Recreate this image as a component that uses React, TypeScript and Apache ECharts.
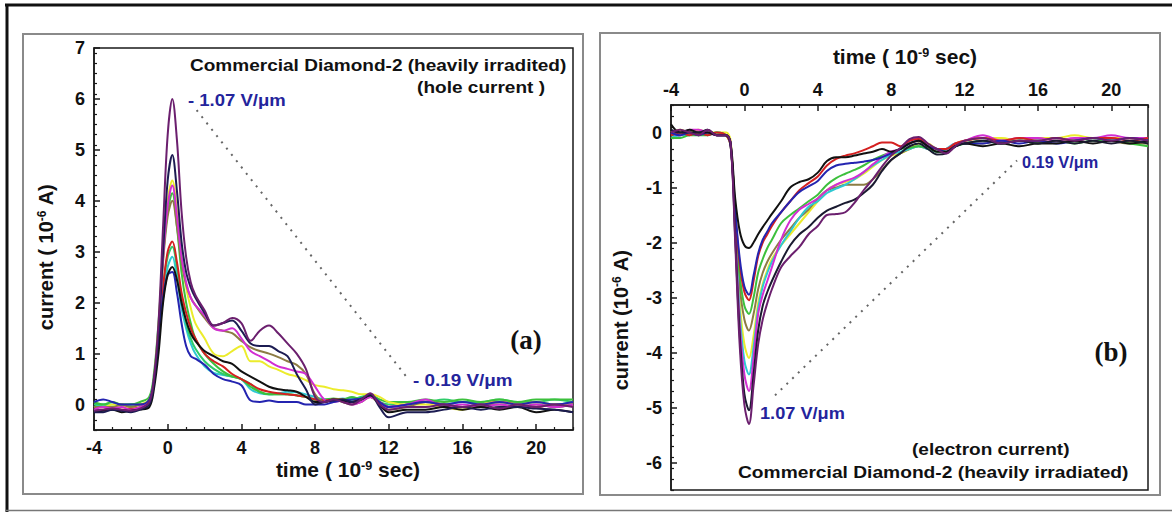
import React, { useEffect, useRef } from "react";
import * as echarts from "echarts";

// shared time axis (10^-9 s)
const TIME = [
  -4, -3.5, -3, -2.5, -2, -1.5, -1, -0.75, -0.5, -0.25, 0, 0.25, 0.5, 0.75, 1, 1.25, 1.5,
  2, 2.5, 3, 3.5, 4, 4.5, 5, 5.5, 6, 6.5, 7, 7.5, 8, 8.5, 9, 9.5, 10, 10.5, 11, 11.5, 12,
  13, 14, 15, 16, 17, 18, 19, 20, 21, 22,
];

// ---- panel (a): hole current (10^-6 A)
const HOLE_PURPLE = [-0.12, -0.1, -0.08, -0.1, -0.12, -0.08, 0.05, 0.5, 1.6, 3.5, 5.3, 6.0, 5.2, 3.8, 2.9, 2.4, 2.15,
  1.85, 1.55, 1.6, 1.7, 1.6, 1.25, 1.45, 1.55, 1.4, 1.2, 1.0, 0.7, 0.15, 0.05, 0.1, 0.05, 0.0, 0.1, 0.22, 0.0, -0.1,
  -0.05, -0.05, 0.0, -0.05, 0.0, -0.08, 0.0, -0.05, 0.0, -0.05];
const HOLE_NAVY = [-0.15, -0.15, -0.1, -0.12, -0.15, -0.1, 0.0, 0.4, 1.4, 3.0, 4.4, 4.9, 4.2, 3.2, 2.6, 2.3, 2.1,
  1.8, 1.55, 1.6, 1.65, 1.45, 1.2, 1.15, 1.15, 1.05, 0.95, 0.6, 0.3, 0.0, 0.05, 0.08, 0.1, 0.05, 0.1, 0.2, -0.05, -0.25,
  -0.15, -0.15, -0.1, -0.05, -0.1, -0.05, -0.05, -0.08, -0.1, -0.15];
const HOLE_YELLOW = [-0.05, -0.05, 0.0, -0.05, -0.05, 0.0, 0.1, 0.5, 1.5, 3.0, 4.0, 4.4, 3.8, 2.9, 2.3, 1.9, 1.6,
  1.3, 1.0, 0.95, 1.05, 1.15, 0.85, 0.85, 0.75, 0.68, 0.6, 0.55, 0.48, 0.38, 0.35, 0.3, 0.28, 0.25, 0.2, 0.2, 0.15, 0.05,
  0.0, 0.0, -0.05, -0.1, 0.0, 0.05, 0.0, 0.05, 0.0, 0.0];
const HOLE_MAGENTA = [-0.1, -0.05, -0.08, -0.05, -0.1, -0.05, 0.05, 0.45, 1.4, 2.9, 3.9, 4.3, 3.7, 2.9, 2.4, 2.1, 1.95,
  1.75, 1.5, 1.45, 1.5, 1.3, 1.05, 0.95, 0.85, 0.75, 0.7, 0.65, 0.6, 0.35, 0.1, 0.05, 0.08, 0.0, 0.05, 0.15, 0.05, -0.05,
  0.0, 0.1, -0.05, 0.0, -0.05, 0.0, -0.05, 0.0, -0.05, 0.0];
const HOLE_GREEN = [0.05, 0.0, 0.05, 0.0, 0.0, 0.05, 0.15, 0.6, 1.6, 2.9, 3.8, 4.15, 3.5, 2.6, 2.0, 1.6, 1.3,
  1.0, 0.8, 0.65, 0.55, 0.5, 0.35, 0.25, 0.2, 0.2, 0.2, 0.18, 0.15, 0.1, 0.1, 0.12, 0.1, 0.15, 0.1, 0.2, 0.1, 0.05,
  0.05, 0.1, 0.05, 0.1, 0.05, 0.1, 0.05, 0.1, 0.1, 0.1];
const HOLE_OLIVE = [-0.05, -0.05, -0.05, 0.0, -0.05, 0.0, 0.05, 0.45, 1.4, 2.8, 3.7, 4.0, 3.5, 2.8, 2.35, 2.1, 1.95,
  1.7, 1.5, 1.45, 1.4, 1.25, 1.12, 1.05, 1.0, 0.93, 0.85, 0.78, 0.6, 0.2, 0.05, 0.1, 0.05, 0.0, 0.05, 0.15, 0.0, -0.1,
  -0.05, 0.05, 0.0, -0.05, 0.0, 0.0, -0.05, 0.0, -0.05, 0.0];
const HOLE_RED = [-0.1, -0.1, -0.05, -0.1, -0.08, -0.05, 0.05, 0.4, 1.2, 2.3, 3.0, 3.2, 2.8, 2.2, 1.8, 1.5, 1.3,
  1.0, 0.85, 0.75, 0.6, 0.5, 0.4, 0.3, 0.25, 0.22, 0.2, 0.18, 0.15, 0.1, 0.08, 0.1, 0.1, 0.05, 0.1, 0.15, 0.05, -0.05,
  0.0, 0.05, 0.0, -0.05, 0.0, 0.05, 0.0, -0.05, 0.0, 0.0];
const HOLE_GREEN2 = [0.0, 0.0, -0.05, 0.0, 0.0, 0.0, 0.1, 0.5, 1.3, 2.3, 2.9, 3.1, 2.7, 2.1, 1.6, 1.3, 1.1,
  0.85, 0.7, 0.6, 0.55, 0.5, 0.4, 0.25, 0.2, 0.2, 0.2, 0.18, 0.15, 0.1, 0.05, 0.1, 0.1, 0.1, 0.15, 0.2, 0.05, 0.0,
  0.05, 0.05, 0.1, 0.05, 0.05, 0.1, 0.05, 0.05, 0.1, 0.05];
const HOLE_CYAN = [-0.05, 0.0, 0.0, -0.05, 0.0, 0.0, 0.08, 0.45, 1.2, 2.1, 2.7, 2.9, 2.5, 1.9, 1.5, 1.2, 1.0,
  0.75, 0.62, 0.58, 0.55, 0.5, 0.3, 0.22, 0.2, 0.22, 0.25, 0.24, 0.2, 0.15, 0.1, 0.1, 0.12, 0.1, 0.15, 0.2, 0.05, -0.05,
  0.0, 0.05, 0.0, 0.05, 0.0, 0.05, 0.0, 0.05, 0.0, 0.05];
const HOLE_BLACK = [-0.15, -0.12, -0.1, -0.15, -0.12, -0.1, -0.05, 0.3, 1.0, 2.0, 2.55, 2.7, 2.45, 2.0, 1.65, 1.4, 1.25,
  1.05, 0.95, 0.85, 0.8, 0.65, 0.55, 0.45, 0.35, 0.3, 0.28, 0.25, 0.15, 0.05, 0.05, 0.1, 0.08, 0.05, 0.1, 0.18, 0.0, -0.15,
  -0.1, -0.1, -0.05, -0.1, -0.05, -0.1, -0.05, -0.15, -0.1, -0.15];
const HOLE_BLUE = [0.05, 0.1, 0.05, 0.0, 0.0, 0.0, 0.1, 0.5, 1.3, 2.1, 2.55, 2.6, 2.2, 1.6, 1.15, 0.95, 0.9,
  0.78, 0.6, 0.5, 0.45, 0.38, 0.08, 0.05, 0.08, 0.05, 0.05, 0.05, 0.0, 0.0, 0.0, 0.05, 0.08, 0.1, 0.12, 0.18, 0.05, -0.05,
  0.0, 0.05, 0.0, 0.05, 0.0, 0.05, 0.0, 0.05, 0.0, 0.05];

// ---- panel (b): electron current (10^-6 A)
const EL_BLACK = [0.15, 0.0, 0.05, 0.0, 0.0, -0.05, -0.05, -0.2, -1.2, -1.8, -2.05, -2.1, -2.0, -1.85, -1.72, -1.6, -1.48,
  -1.25, -1.0, -0.9, -0.85, -0.73, -0.52, -0.45, -0.45, -0.42, -0.38, -0.35, -0.3, -0.35, -0.3, -0.2, -0.15, -0.25, -0.35, -0.35, -0.25, -0.2,
  -0.25, -0.2, -0.25, -0.2, -0.2, -0.15, -0.2, -0.15, -0.2, -0.15];
const EL_NAVY = [0.0, -0.05, 0.0, -0.05, 0.0, -0.05, -0.05, -0.25, -1.4, -2.3, -2.8, -2.95, -2.6, -2.2, -1.95, -1.8, -1.65,
  -1.45, -1.25, -1.08, -0.98, -0.88, -0.7, -0.6, -0.57, -0.55, -0.53, -0.5, -0.45, -0.38, -0.3, -0.2, -0.15, -0.25, -0.3, -0.35, -0.25, -0.2,
  -0.2, -0.15, -0.2, -0.15, -0.2, -0.15, -0.1, -0.15, -0.1, -0.15];
const EL_RED = [-0.05, 0.0, -0.05, 0.0, -0.05, 0.0, -0.05, -0.25, -1.45, -2.4, -2.9, -3.05, -2.7, -2.25, -2.0, -1.85, -1.7,
  -1.45, -1.25, -1.05, -0.92, -0.8, -0.6, -0.48, -0.42, -0.38, -0.32, -0.25, -0.18, -0.18, -0.25, -0.15, -0.12, -0.25, -0.3, -0.3, -0.2, -0.15,
  -0.1, -0.15, -0.1, -0.15, -0.1, -0.15, -0.1, -0.1, -0.15, -0.1];
const EL_GREEN = [-0.1, -0.1, -0.05, -0.05, -0.05, 0.0, -0.05, -0.25, -1.5, -2.6, -3.15, -3.3, -3.0, -2.55, -2.3, -2.1, -1.95,
  -1.65, -1.5, -1.38, -1.25, -1.13, -0.95, -0.83, -0.75, -0.68, -0.6, -0.5, -0.42, -0.36, -0.3, -0.28, -0.25, -0.28, -0.35, -0.3, -0.25, -0.2,
  -0.15, -0.2, -0.15, -0.2, -0.15, -0.2, -0.15, -0.15, -0.2, -0.25];
const EL_OLIVE = [-0.05, -0.05, 0.0, -0.05, 0.0, -0.05, -0.05, -0.2, -1.55, -2.8, -3.4, -3.6, -3.3, -2.85, -2.55, -2.35, -2.2,
  -1.95, -1.75, -1.55, -1.4, -1.2, -1.05, -1.0, -0.95, -0.95, -0.95, -0.85, -0.68, -0.5, -0.38, -0.3, -0.25, -0.3, -0.35, -0.35, -0.25, -0.2,
  -0.2, -0.15, -0.15, -0.2, -0.15, -0.15, -0.1, -0.15, -0.2, -0.2];
const EL_YELLOW = [0.0, 0.05, 0.0, 0.05, 0.0, 0.0, 0.0, -0.15, -1.6, -3.1, -3.85, -4.1, -3.7, -3.1, -2.75, -2.5, -2.3,
  -2.05, -1.85, -1.65, -1.45, -1.25, -1.05, -0.95, -0.9, -0.85, -0.75, -0.62, -0.5, -0.42, -0.38, -0.3, -0.2, -0.2, -0.3, -0.3, -0.2, -0.15,
  -0.1, -0.1, -0.15, -0.1, -0.1, -0.05, -0.1, -0.1, -0.1, -0.1];
const EL_CYAN = [-0.1, -0.05, -0.05, 0.0, -0.05, 0.0, -0.05, -0.2, -1.7, -3.3, -4.15, -4.4, -3.9, -3.2, -2.8, -2.55, -2.35,
  -2.05, -1.8, -1.55, -1.35, -1.25, -1.1, -1.02, -0.95, -0.85, -0.72, -0.6, -0.5, -0.4, -0.35, -0.3, -0.25, -0.3, -0.35, -0.3, -0.2, -0.2,
  -0.15, -0.2, -0.15, -0.15, -0.1, -0.15, -0.1, -0.15, -0.1, -0.15];
const EL_MAGENTA = [0.0, -0.05, 0.05, 0.05, 0.0, -0.05, -0.05, -0.2, -1.8, -3.5, -4.4, -4.7, -4.1, -3.3, -2.95, -2.7, -2.45,
  -1.95, -1.6, -1.4, -1.3, -1.2, -1.05, -0.95, -0.88, -0.82, -0.72, -0.58, -0.45, -0.35, -0.3, -0.15, -0.1, -0.25, -0.3, -0.3, -0.2, -0.15,
  -0.05, -0.15, -0.1, -0.1, -0.15, -0.1, -0.1, -0.05, -0.1, -0.1];
const EL_BLACK2 = [0.05, 0.0, 0.0, 0.0, 0.05, -0.05, -0.05, -0.2, -1.9, -3.7, -4.75, -5.05, -4.4, -3.6, -3.15, -2.9, -2.7,
  -2.35, -2.05, -1.85, -1.72, -1.55, -1.42, -1.35, -1.28, -1.22, -1.1, -0.95, -0.7, -0.5, -0.38, -0.25, -0.2, -0.3, -0.4, -0.38, -0.25, -0.2,
  -0.15, -0.2, -0.15, -0.2, -0.15, -0.2, -0.15, -0.2, -0.15, -0.2];
const EL_PURPLE = [0.0, 0.05, 0.0, -0.05, 0.05, -0.05, -0.05, -0.2, -2.0, -3.9, -4.95, -5.3, -4.6, -3.85, -3.4, -3.1, -2.85,
  -2.45, -2.25, -2.08, -1.85, -1.7, -1.5, -1.48, -1.45, -1.28, -1.05, -0.85, -0.62, -0.42, -0.28, -0.12, -0.08, -0.2, -0.3, -0.38, -0.25, -0.15,
  -0.1, -0.2, -0.15, -0.15, -0.1, -0.15, -0.1, -0.15, -0.1, -0.15];

// pointer lines (data coordinates)
const HOLE_POINTER = [[1.57, 5.78], [12.97, 0.54]];
const EL_POINTER = [[1.67, -4.78], [14.86, -0.51]];

// axis ticks / labels
const X_TICKS = [-4, 0, 4, 8, 12, 16, 20];
const HOLE_Y_TICKS = [0, 1, 2, 3, 4, 5, 6, 7];
const EL_Y_TICKS = [-6, -5, -4, -3, -2, -1, 0];

// styles
const COLORS = {
  purple: "#6b1f6e", navy: "#1c1c52", yellow: "#ecec2c", magenta: "#d22ed2", green: "#3cc03c",
  olive: "#8c7c44", red: "#d42020", green2: "#2ecc6a", cyan: "#2ec8d2", black: "#111111",
  blue: "#2424b0", black2: "#1a1a30",
};
const HOLE_SERIES: [number[], string][] = [
  [HOLE_CYAN, COLORS.cyan], [HOLE_GREEN2, COLORS.green2], [HOLE_GREEN, COLORS.green], [HOLE_RED, COLORS.red],
  [HOLE_YELLOW, COLORS.yellow], [HOLE_OLIVE, COLORS.olive], [HOLE_MAGENTA, COLORS.magenta], [HOLE_BLUE, COLORS.blue],
  [HOLE_BLACK, COLORS.black], [HOLE_NAVY, COLORS.navy], [HOLE_PURPLE, COLORS.purple],
];
const EL_SERIES: [number[], string][] = [
  [EL_YELLOW, COLORS.yellow], [EL_OLIVE, COLORS.olive], [EL_CYAN, COLORS.cyan], [EL_GREEN, COLORS.green],
  [EL_MAGENTA, COLORS.magenta], [EL_RED, COLORS.red], [EL_NAVY, COLORS.blue], [EL_BLACK, COLORS.black],
  [EL_BLACK2, COLORS.black2], [EL_PURPLE, COLORS.purple],
];

const SANS = "'Liberation Sans', Arial, sans-serif";
const SERIF = "'Liberation Serif', 'Times New Roman', serif";
const AX = "#1a1a1a";
const NOTE_BLUE = "#24249c";

function minorTicks(min: number, max: number, step: number, skip: number) {
  const out: number[] = [];
  const n = Math.round((max - min) / step);
  for (let i = 0; i <= n; i++) {
    const v = Math.round((min + i * step) * 100) / 100;
    if (Math.abs(v / skip - Math.round(v / skip)) > 1e-6) out.push(v);
  }
  return out;
}

function xAxis(grid: number, position: "top" | "bottom", ticks: number[], minor: boolean) {
  return {
    type: "value", gridIndex: grid, min: -4, max: 22, position,
    axisLine: { show: !minor, onZero: false, lineStyle: { color: AX, width: 1.5 } },
    axisTick: minor
      ? { show: true, inside: true, length: 3, customValues: minorTicks(-4, 22, 1, 4), lineStyle: { color: AX, width: 1.2 } }
      : { show: true, inside: true, length: 6, customValues: ticks, lineStyle: { color: AX, width: 1.5 } },
    axisLabel: minor
      ? { show: false }
      : { show: true, customValues: ticks, margin: position === "top" ? 6 : 9, fontSize: 18, fontWeight: "bold", color: "#111", fontFamily: SANS },
    splitLine: { show: false },
  };
}

function yAxis(grid: number, min: number, max: number, ticks: number[], minor: boolean) {
  return {
    type: "value", gridIndex: grid, min, max, position: "left",
    axisLine: { show: !minor, onZero: false, lineStyle: { color: AX, width: 1.5 } },
    axisTick: minor
      ? { show: true, inside: true, length: 3, customValues: minorTicks(min, max, 0.2, 1), lineStyle: { color: AX, width: 1.2 } }
      : { show: true, inside: true, length: 6, customValues: ticks, lineStyle: { color: AX, width: 1.5 } },
    axisLabel: minor
      ? { show: false }
      : { show: true, customValues: ticks, margin: 9, fontSize: 18, fontWeight: "bold", color: "#111", fontFamily: SANS },
    splitLine: { show: false },
  };
}

const SUP = { sup: { fontSize: 12, fontWeight: "bold", fontFamily: SANS, fill: "#111", verticalAlign: "top" } };

function txt(text: string, x: number, y: number, opts: any = {}) {
  return {
    type: "text", x, y, z: 100, rotation: opts.rotation || 0,
    scaleX: opts.sx || 1,
    style: {
      text, fill: opts.color || "#111", fontSize: opts.size || 17, fontWeight: "bold",
      fontFamily: opts.family || SANS, align: opts.align || "left", verticalAlign: "middle",
      rich: opts.rich,
    },
  };
}

export default function App() {
  const ref = useRef<HTMLDivElement>(null);
  useEffect(() => {
    if (!ref.current) return;
    const chart = echarts.init(ref.current, null, { renderer: "svg" });
    const lineSeries = (vals: number[], color: string, xi: number, yi: number) => ({
      type: "line", xAxisIndex: xi, yAxisIndex: yi, silent: true, symbol: "none", smooth: 0.35,
      data: TIME.map((t, i) => [t, vals[i]]),
      lineStyle: { color, width: 2 }, z: 3,
    });
    const pointer = (pts: number[][], xi: number, yi: number) => ({
      type: "line", xAxisIndex: xi, yAxisIndex: yi, silent: true, symbol: "none", data: pts,
      lineStyle: { color: "#666", width: 2, type: [2, 6] }, z: 2,
    });
    const option: any = {
      animation: false,
      backgroundColor: "#ffffff",
      grid: [
        { left: 94, top: 48, width: 479, height: 382, show: true, borderColor: AX, borderWidth: 1.5, backgroundColor: "transparent" },
        { left: 671, top: 105, width: 477, height: 385, show: true, borderColor: AX, borderWidth: 1.5, backgroundColor: "transparent" },
      ],
      xAxis: [
        xAxis(0, "bottom", X_TICKS, false),
        xAxis(1, "top", X_TICKS, false),
        xAxis(0, "bottom", X_TICKS, true),
        xAxis(1, "top", X_TICKS, true),
      ],
      yAxis: [
        yAxis(0, -0.5, 7, HOLE_Y_TICKS, false),
        yAxis(1, -6.5, 0.5, EL_Y_TICKS, false),
        yAxis(0, -0.5, 7, HOLE_Y_TICKS, true),
        yAxis(1, -6.5, 0.5, EL_Y_TICKS, true),
      ],
      series: [
        pointer(HOLE_POINTER, 0, 0),
        pointer(EL_POINTER, 1, 1),
        ...HOLE_SERIES.map(([v, c]) => lineSeries(v, c, 0, 0)),
        ...EL_SERIES.map(([v, c]) => lineSeries(v, c, 1, 1)),
      ],
      graphic: [
        { type: "line", z: 0, shape: { x1: 5, y1: 5, x2: 1172, y2: 5 }, style: { stroke: "#111", lineWidth: 3 } },
        { type: "line", z: 0, shape: { x1: 7, y1: 4, x2: 7, y2: 512 }, style: { stroke: "#111", lineWidth: 3 } },
        { type: "line", z: 0, shape: { x1: 5, y1: 510.5, x2: 1172, y2: 510.5 }, style: { stroke: "#777", lineWidth: 1.5 } },
        { type: "rect", z: 0, shape: { x: 23, y: 34, width: 560, height: 460 }, style: { fill: "none", stroke: "#8a8a8a", lineWidth: 2 } },
        { type: "rect", z: 0, shape: { x: 600, y: 33, width: 560, height: 462 }, style: { fill: "none", stroke: "#8a8a8a", lineWidth: 2 } },
        // panel (a)
        txt("Commercial Diamond-2 (heavily irradited)", 190, 65, { sx: 1.12 }),
        txt("(hole current )", 545, 87, { sx: 1.12, align: "right" }),
        txt("- 1.07 V/\u03bcm", 188, 100, { sx: 1.09, color: NOTE_BLUE }),
        txt("- 0.19 V/\u03bcm", 413, 380, { sx: 1.11, color: NOTE_BLUE }),
        txt("(a)", 526, 340, { size: 27, family: SERIF, align: "center" }),
        txt("time ( 10{sup|-9} sec)", 348, 470, { size: 20, sx: 1.05, align: "center", rich: SUP }),
        txt("current ( 10{sup|-6} A)", 46, 257, { size: 20, align: "center", rich: SUP, rotation: Math.PI / 2 }),
        // panel (b)
        txt("time ( 10{sup|-9} sec)", 905, 57, { size: 20, sx: 1.05, align: "center", rich: SUP }),
        txt("current (10{sup|-6} A)", 621, 320, { size: 20, align: "center", rich: SUP, rotation: Math.PI / 2 }),
        txt("0.19 V/\u03bcm", 1022, 162, { size: 17, sx: 0.96, color: NOTE_BLUE }),
        txt("1.07 V/\u03bcm", 760, 413, { sx: 1.07, color: NOTE_BLUE }),
        txt("(b)", 1111, 352, { size: 27, family: SERIF, align: "center" }),
        txt("(electron current)", 912, 449, { sx: 1.12 }),
        txt("Commercial Diamond-2 (heavily irradiated)", 738, 472, { sx: 1.13 }),
      ],
    };
    chart.setOption(option);
    return () => chart.dispose();
  }, []);
  return (
    <div
      ref={ref}
      style={{ position: "absolute", left: 0, top: 0, width: 1172, height: 512, background: "#fff" }}
    />
  );
}
